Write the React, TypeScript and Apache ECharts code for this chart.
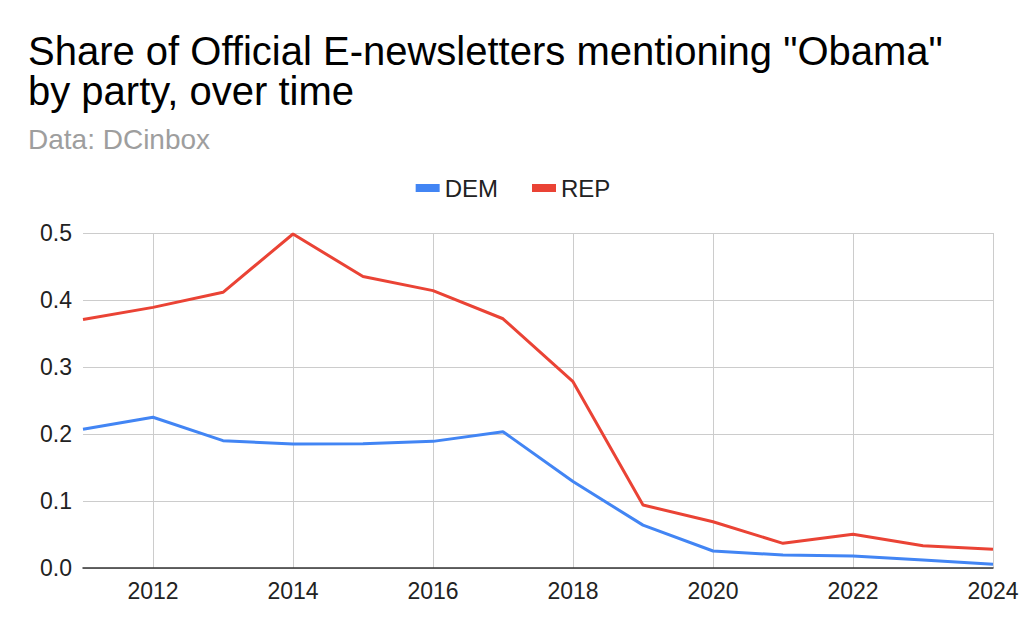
import React, { useEffect, useRef } from "react";
import * as echarts from "echarts";

const years = ["2011","2012","2013","2014","2015","2016","2017","2018","2019","2020","2021","2022","2023","2024"];
const demValues = [0.207, 0.225, 0.19, 0.185, 0.1855, 0.189, 0.2035, 0.129, 0.064, 0.0254, 0.0194, 0.0179, 0.012, 0.0055];
const repValues = [0.371, 0.389, 0.4115, 0.4985, 0.435, 0.414, 0.372, 0.278, 0.094, 0.069, 0.0368, 0.0503, 0.0333, 0.028];
const seriesNames = ["DEM", "REP"];
const seriesColors = ["#4285f4", "#ea4335"];
const titleText = "Share of Official E-newsletters mentioning \"Obama\"\nby party, over time";
const subtitleText = "Data: DCinbox";

const FONT = 'Arial, "Liberation Sans", sans-serif';

export default function App() {
  const ref = useRef<HTMLDivElement>(null);
  useEffect(() => {
    if (!ref.current) return;
    const chart = echarts.init(ref.current, undefined, { renderer: "svg" });
    const showOdd = (i: number) => i % 2 === 1;
    chart.setOption({
      animation: false,
      backgroundColor: "#ffffff",
      textStyle: { fontFamily: FONT },
      title: [
        {
          text: titleText,
          left: 28,
          top: 31,
          padding: 0,
          textStyle: { fontFamily: FONT, fontSize: 40, lineHeight: 40, fontWeight: "normal", color: "#000000" },
        },
        {
          text: subtitleText,
          left: 28,
          top: 124,
          padding: 0,
          textStyle: { fontFamily: FONT, fontSize: 28, lineHeight: 30, fontWeight: "normal", color: "#9e9e9e" },
        },
      ],
      legend: {
        data: seriesNames,
        left: "center",
        top: 171,
        icon: "rect",
        itemWidth: 24,
        itemHeight: 8,
        itemGap: 34,
        itemTextGap: 12,
        textStyle: { fontFamily: FONT, fontSize: 24, color: "#222222" },
      },
      grid: { left: 83, right: 33, top: 233, bottom: 68, containLabel: false },
      xAxis: {
        type: "category",
        data: years,
        boundaryGap: false,
        axisLine: { show: true, lineStyle: { color: "#333333", width: 1.5 } },
        axisTick: { show: false },
        axisLabel: { interval: showOdd, fontFamily: FONT, fontSize: 23, color: "#222222", margin: 11 },
        splitLine: { show: true, interval: showOdd, lineStyle: { color: "#cccccc", width: 1 } },
      },
      yAxis: {
        type: "value",
        min: 0,
        max: 0.5,
        interval: 0.1,
        axisLine: { show: false },
        axisTick: { show: false },
        axisLabel: {
          fontFamily: FONT,
          fontSize: 23,
          color: "#222222",
          margin: 11,
          formatter: (v: number) => v.toFixed(1),
        },
        splitLine: { show: true, lineStyle: { color: "#cccccc", width: 1 } },
      },
      series: [
        {
          name: seriesNames[0],
          type: "line",
          data: demValues,
          showSymbol: false,
          lineStyle: { color: seriesColors[0], width: 3 },
          itemStyle: { color: seriesColors[0] },
        },
        {
          name: seriesNames[1],
          type: "line",
          data: repValues,
          showSymbol: false,
          lineStyle: { color: seriesColors[1], width: 3 },
          itemStyle: { color: seriesColors[1] },
        },
      ],
    });
    return () => chart.dispose();
  }, []);
  return (
    <div
      ref={ref}
      style={{ position: "fixed", left: 0, top: 0, width: 1026, height: 636, background: "#fff" }}
    />
  );
}
